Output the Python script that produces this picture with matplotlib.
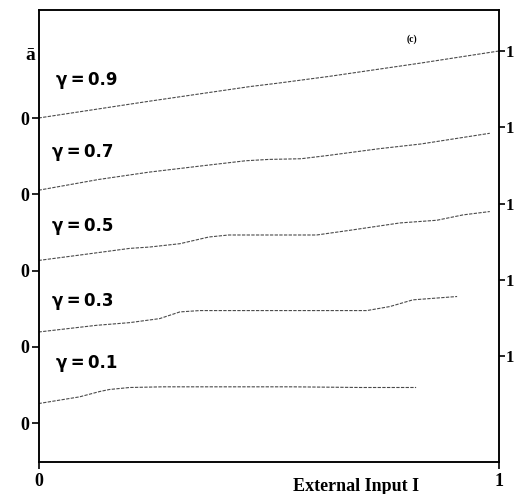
import matplotlib
matplotlib.use('Agg')
import matplotlib.pyplot as plt

# Data: mean activation a-bar vs external input I,
# one trace per gamma (each trace stacked on its own baseline)
GAMMAS = ['0.1', '0.3', '0.5', '0.7', '0.9']

I_01 = [0.0, 0.089, 0.133, 0.154, 0.198, 0.27, 0.40, 0.55, 0.70, 0.82]
A_01 = [0.29, 0.39, 0.47, 0.50, 0.53, 0.54, 0.54, 0.54, 0.53, 0.53]

I_03 = [0.0, 0.126, 0.198, 0.263, 0.307, 0.35, 0.524, 0.713, 0.763, 0.813, 0.909]
A_03 = [0.22, 0.32, 0.36, 0.42, 0.52, 0.54, 0.54, 0.54, 0.60, 0.70, 0.75]

I_05 = [0.0, 0.089, 0.198, 0.241, 0.307, 0.37, 0.413, 0.524, 0.604, 0.676, 0.785, 0.865, 0.922, 0.98]
A_05 = [0.15, 0.23, 0.33, 0.35, 0.40, 0.50, 0.53, 0.53, 0.53, 0.60, 0.71, 0.75, 0.83, 0.88]

I_07 = [0.0, 0.13, 0.24, 0.35, 0.45, 0.50, 0.57, 0.63, 0.74, 0.83, 0.98]
A_07 = [0.06, 0.22, 0.33, 0.42, 0.50, 0.52, 0.53, 0.58, 0.68, 0.75, 0.91]

I_09 = [0.0, 0.24, 0.46, 0.52, 0.63, 0.83, 1.0]
A_09 = [0.0, 0.25, 0.47, 0.52, 0.62, 0.82, 1.0]

SERIES = [(I_01, A_01), (I_03, A_03), (I_05, A_05), (I_07, A_07), (I_09, A_09)]

# layout
STEP = 1.138
LABEL_X = [0.037, 0.030, 0.030, 0.030, 0.037]
LABEL_Y = [0.90, 0.68, 0.66, 0.63, 0.57]

plt.rcParams['font.family'] = ['Liberation Serif', 'DejaVu Serif']

fig = plt.figure(figsize=(5.16, 4.94), dpi=100)
ax = fig.add_axes([38.5 / 516, 32 / 494, 460.5 / 516, 452 / 494])

for k, (xs, ys) in enumerate(SERIES):
    off = k * STEP
    ax.plot(xs, [off + v for v in ys], color='#4a4a4a', lw=0.8,
            linestyle=(0, (3, 1.2)))
    ax.text(LABEL_X[k], off + LABEL_Y[k], '\u03b3\u2009=\u2009' + GAMMAS[k],
            fontsize=12, fontweight='bold', family=['DejaVu Sans'],
            va='center', ha='left')

ax.set_xlim(0, 1)
ax.set_ylim(-0.582, 4 * STEP + 1.612)

ax.set_xticks([0, 1])
ax.set_xticklabels(['0', '1'], fontsize=13, fontweight='bold')
ax.tick_params(axis='x', direction='out', length=5, width=1.2, pad=3)

ax.set_yticks([k * STEP for k in range(5)])
ax.set_yticklabels(['0'] * 5, fontsize=13, fontweight='bold')
ax.tick_params(axis='y', direction='out', length=5, width=1.2, pad=2)

rax = ax.twinx()
rax.set_ylim(ax.get_ylim())
rax.set_yticks([k * STEP + 1 for k in range(5)])
rax.set_yticklabels(['1'] * 5, fontsize=12, fontweight='bold')
rax.tick_params(axis='y', direction='out', length=4, width=1.2, pad=1)

for a in (ax, rax):
    for s in a.spines.values():
        s.set_linewidth(1.1)

ax.set_xlabel('External Input I', fontsize=13, fontweight='bold')
ax.xaxis.set_label_coords(0.69, -0.035)

fig.text(30 / 516, 1 - 55 / 494, '\u0101', fontsize=14, fontweight='bold',
         ha='center', va='center')
ax.text(0.81, 0.935, '(c)', transform=ax.transAxes, fontsize=7,
        fontweight='bold', ha='center', va='center')

fig.savefig('out.png', dpi=100)
